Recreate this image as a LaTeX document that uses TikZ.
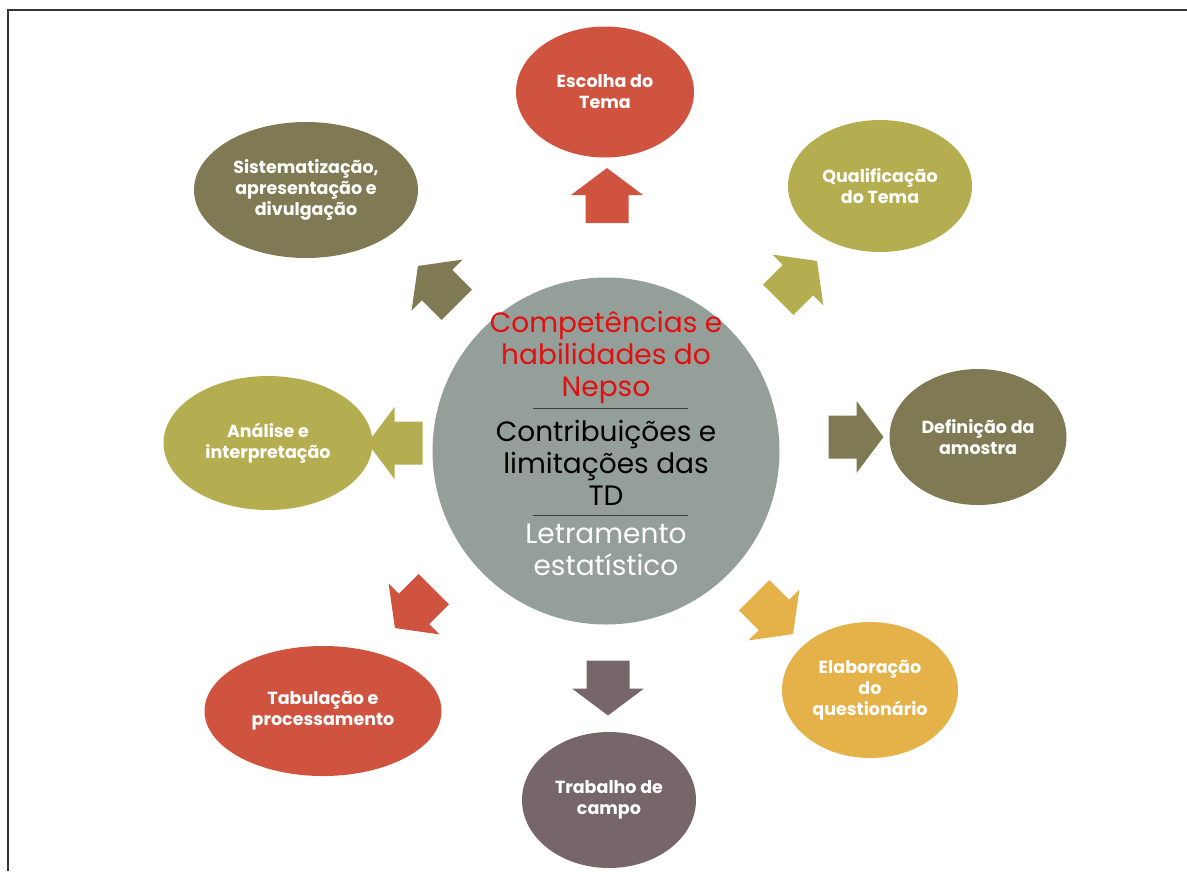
\documentclass[tikz,border=0pt]{standalone}
\usepackage{fontspec}
\setmainfont{Poppins}
\usetikzlibrary{shapes.geometric}
\definecolor{cred}{HTML}{D0533F}
\definecolor{colive}{HTML}{B5AE50}
\definecolor{cdark}{HTML}{7F7A53}
\definecolor{cgold}{HTML}{E5B249}
\definecolor{cmauve}{HTML}{76666A}
\definecolor{ccircle}{HTML}{939F98}
\definecolor{ctitle}{HTML}{E01010}
\begin{document}
\begin{tikzpicture}[x=1pt,y=-1pt,
  stage/.style={ellipse, inner sep=0pt, text=white,
    font=\fontsize{17.5}{21}\selectfont\bfseries, align=center},
  hubtext/.style={font=\fontsize{28}{32}\selectfont, align=center, inner sep=0pt},
  sepline/.style={line width=0.7pt, black!75},
  blockarrow/.pic={\path[pic actions] (-27.5,-21.5) -- (0.5,-21.5) -- (0.5,-36) -- (27.5,0) -- (0.5,36) -- (0.5,21.5) -- (-27.5,21.5) -- cycle;},
]
\useasboundingbox (0,0) rectangle (1187,871);
\draw[line width=2pt, black!80] (1187,10) -- (8,10) -- (8,871);

% hub
\node[circle, fill=ccircle, minimum size=347pt, inner sep=0pt] (hub) at (606,451) {};
\node[hubtext, text=ctitle] (t1) at (606,357) {Competências e\\habilidades do\\Nepso};
\draw[sepline] (533,408) -- (688,408);
\node[hubtext, text=black] (t2) at (606,463) {Contribuições e\\limitações das\\TD};
\draw[sepline] (533,515) -- (688,515);
\node[hubtext, text=white] (t3) at (606,550) {Letramento\\estatístico};

% stages
\node[stage, fill=cred,   minimum width=178pt, minimum height=131pt] (escolha) at (605,92) {Escolha do\\Tema};
\node[stage, fill=colive, minimum width=184pt, minimum height=132pt] (qualif)  at (880,186) {Qualificação\\do Tema};
\node[stage, fill=cdark,  minimum width=177pt, minimum height=136pt] (defin)   at (978,437) {Definição da\\amostra};
\node[stage, fill=cgold,  minimum width=176pt, minimum height=136pt] (elab)    at (870,690) {Elaboração\\do\\questionário};
\node[stage, fill=cmauve, minimum width=174pt, minimum height=136pt] (trab)    at (609,800) {Trabalho de\\campo};
\node[stage, fill=cred,   minimum width=237pt, minimum height=130pt] (tabul)   at (323,711) {Tabulação e\\processamento};
\node[stage, fill=colive, minimum width=209pt, minimum height=134pt] (anal)    at (268,443) {Análise e\\interpretação};
\node[stage, fill=cdark,  minimum width=224pt, minimum height=136pt] (sist)    at (306,190) {Sistematização,\\apresentação e\\divulgação};

% arrows
\pic[fill=cred,   rotate=90]   at (607,195.5) {blockarrow};
\pic[fill=colive, rotate=45]   at (797.6,280.4) {blockarrow};
\pic[fill=cdark,  rotate=0]    at (856,437) {blockarrow};
\pic[fill=cgold,  rotate=-45]  at (773.6,614.6) {blockarrow};
\pic[fill=cmauve, rotate=-90]  at (608,688) {blockarrow};
\pic[fill=cred,   rotate=-135] at (414.4,608.6) {blockarrow};
\pic[fill=colive, rotate=180]  at (395,443) {blockarrow};
\pic[fill=cdark,  rotate=135]  at (437.4,285.4) {blockarrow};
\end{tikzpicture}
\end{document}
